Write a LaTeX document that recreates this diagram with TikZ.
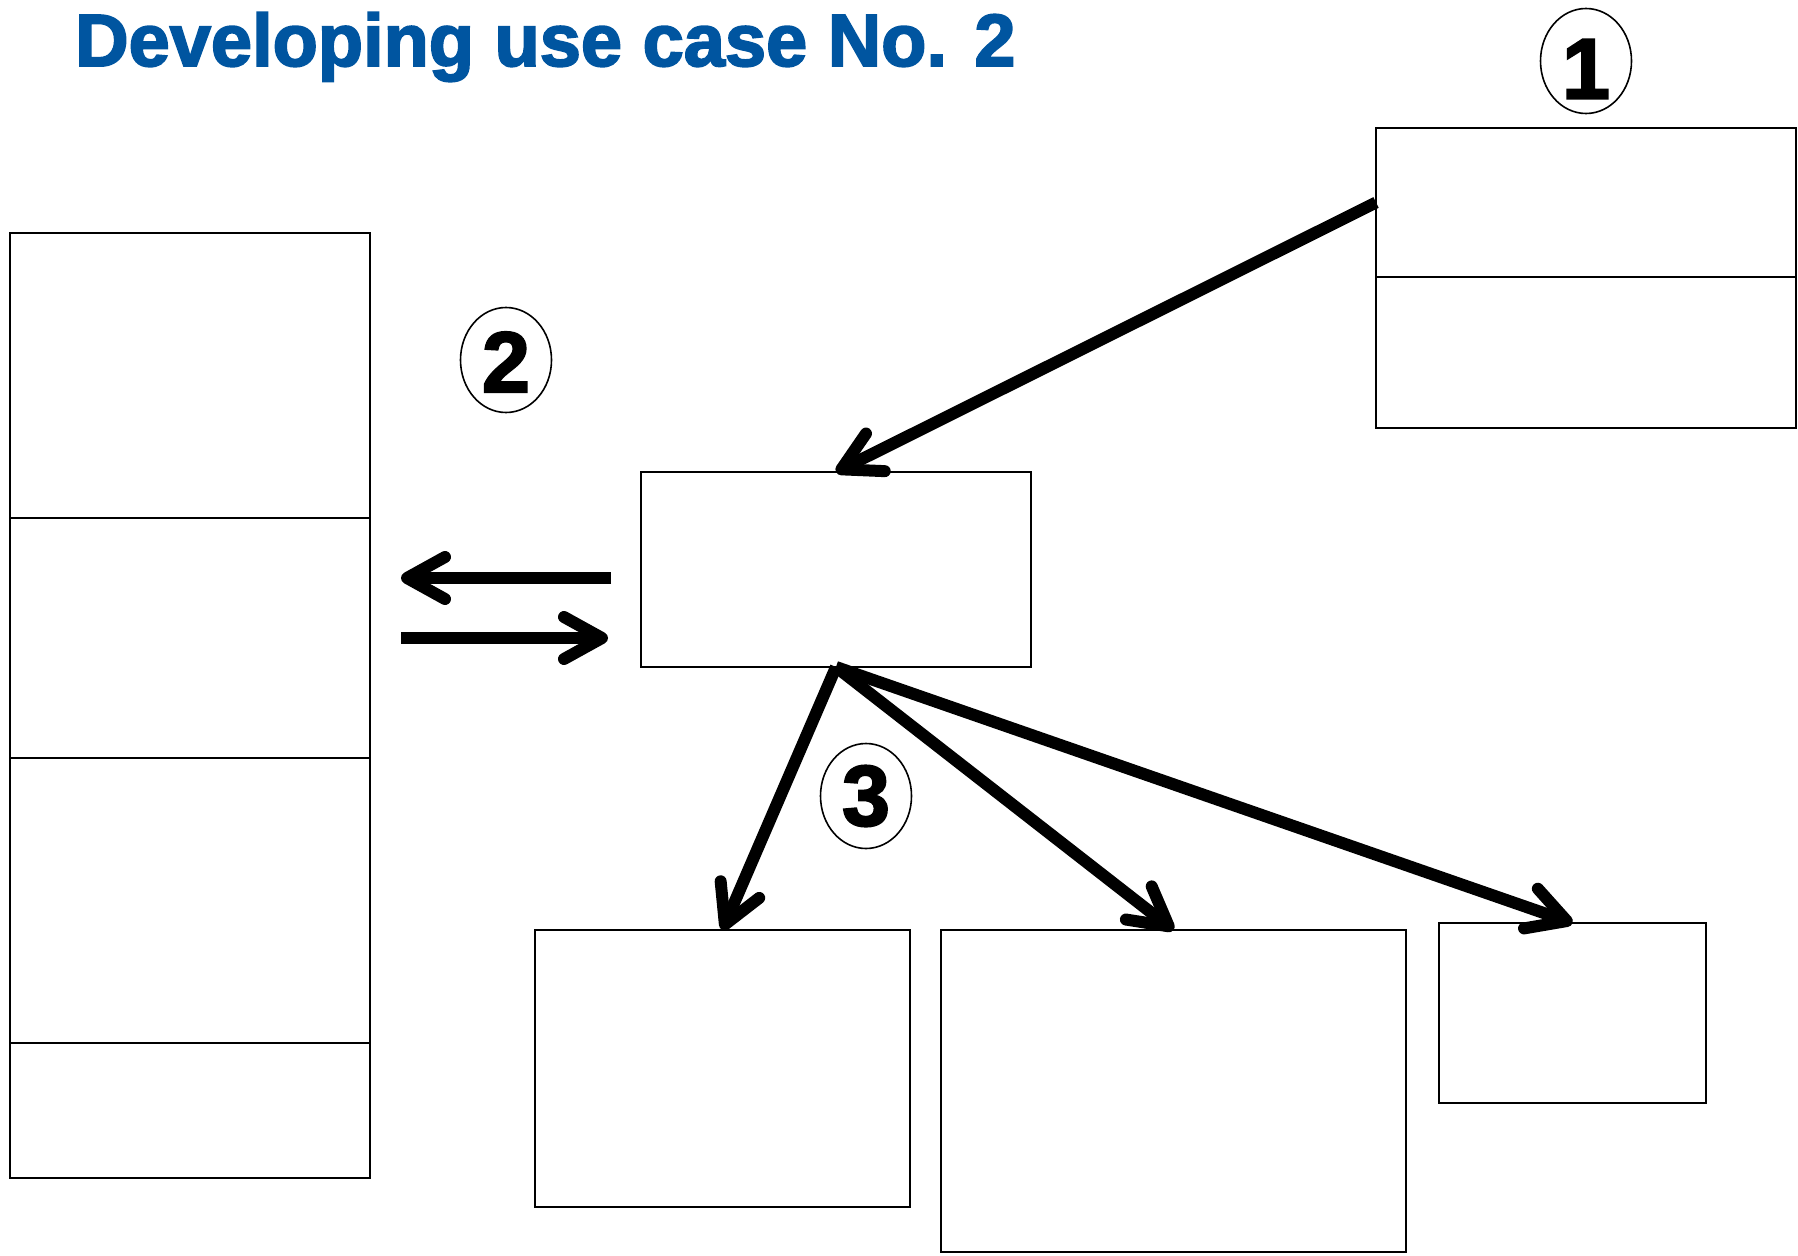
\documentclass[tikz,border=0pt]{standalone}
\usepackage{fontspec}
\setmainfont{Liberation Sans}
\newfontfamily\heavyfont[BoldFeatures={FakeBold=2.5}]{Liberation Sans}
\usetikzlibrary{arrows.meta,shapes.geometric,calc}
\definecolor{titleblue}{RGB}{0,85,160}
\begin{document}
\begin{tikzpicture}[x=1pt,y=-1pt,
 box/.style={draw,line width=2.3pt,rectangle,inner sep=0pt,outer sep=0pt,anchor=north west},
 flow/.style={line width=12pt,-{Straight Barb[length=38pt,width=42pt,round]}},
 num/.style={draw,ellipse,line width=1.6pt,minimum width=91pt,minimum height=105pt,inner sep=0pt,font=\heavyfont\fontsize{86}{86}\selectfont\bfseries}]
\useasboundingbox[fill=white] (0,0) rectangle (1798,1255);
\node[anchor=base west,text=titleblue,font=\heavyfont\fontsize{74}{74}\selectfont\bfseries,inner sep=0pt] (title) at (75,66) {Developing use case No. 2};
% boxes
\node[box,minimum width=420pt,minimum height=149pt] (b1t) at (1376,128) {};
\node[box,minimum width=420pt,minimum height=151pt] (b1b) at (1376,277) {};
\node[box,minimum width=360pt,minimum height=285pt] (L1) at (10,233) {};
\node[box,minimum width=360pt,minimum height=240pt] (L2) at (10,518) {};
\node[box,minimum width=360pt,minimum height=285pt] (L3) at (10,758) {};
\node[box,minimum width=360pt,minimum height=135pt] (L4) at (10,1043) {};
\node[box,minimum width=390pt,minimum height=195pt] (c) at (641,472) {};
\node[box,minimum width=375pt,minimum height=277pt] (A) at (535,930) {};
\node[box,minimum width=465pt,minimum height=322pt] (B) at (941,930) {};
\node[box,minimum width=267pt,minimum height=180pt] (C) at (1439,923) {};
% numbers
\node[num] (n1) at (1586,61) {\raisebox{-8pt}[\height][0pt]{1}};
\node[num] (n2) at (506,360) {\raisebox{-2pt}[\height][0pt]{2}};
\node[num] (n3) at (866,796) {3};
% arrows
\draw[flow] (b1t.west) -- (c.north);
\draw[flow] (c.south) -- (A.north);
\draw[flow] (c.south) -- (B.north);
\draw[flow] (c.south) -- (C.north);
\draw[flow] ($(c.west|-L2.east)+(-30,-60)$) -- ($(L2.east)+(31,-60)$);
\draw[flow] ($(L2.east)+(31,0)$) -- ($(c.west|-L2.east)+(-33,0)$);
\end{tikzpicture}
\end{document}
